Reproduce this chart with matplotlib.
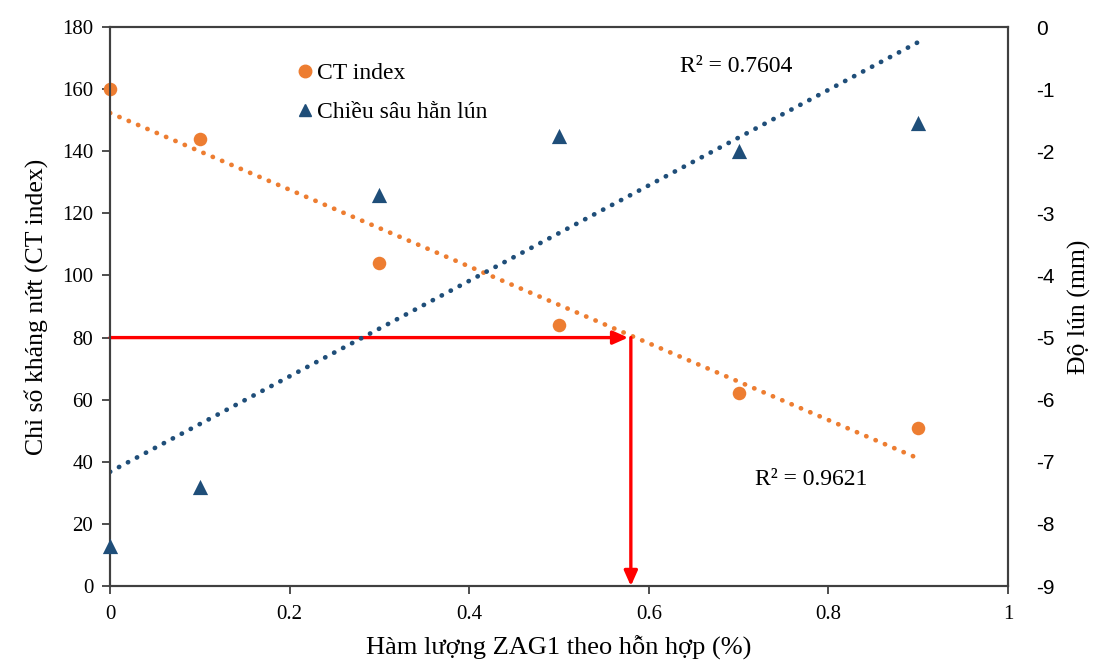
import numpy as np
import matplotlib
matplotlib.use("Agg")
import matplotlib.pyplot as plt
from matplotlib.lines import Line2D

x_vals = [0, 0.1, 0.3, 0.5, 0.7, 0.9]
ct_index = [160, 144, 104, 84, 62, 51]
rut_depth = [-8.35, -7.4, -2.7, -1.75, -2.0, -1.55]
r2_ct = "R² = 0.9621"
r2_rut = "R² = 0.7604"
target_ct = 80
target_x = 0.58
right_ticks = [-9, -8, -7, -6, -5, -4, -3, -2, -1, 0]

orange = "#ED7D31"
blue = "#1F4E79"
serif = "Liberation Serif"

plt.rcParams['font.family'] = [serif, 'DejaVu Serif']

fig = plt.figure(figsize=(10.99, 6.69), dpi=100)
ax = fig.add_axes([0.1001, 0.124, 0.8171, 0.8356])
ax2 = ax.twinx()

# trendlines
xs = np.array(x_vals)
p1 = np.polyfit(xs, ct_index, 1)
p2 = np.polyfit(xs, rut_depth, 1)
xl = np.array([0, 0.9])
ax.plot(xl, np.polyval(p1, xl), linestyle=(0, (0.05, 2.1)), color=orange, lw=3.4,
        dash_capstyle='round', zorder=2)
ax2.plot(xl, np.polyval(p2, xl), linestyle=(0, (0.05, 2.1)), color=blue, lw=3.4,
         dash_capstyle='round', zorder=2)

ax.scatter(x_vals, ct_index, s=95, color=orange, zorder=4, clip_on=False, linewidths=0)
ax2.scatter(x_vals, rut_depth, s=120, marker='^', color=blue, zorder=4, clip_on=False, linewidths=0)

# red arrows
ax.annotate("", xy=(target_x - 0.003, target_ct), xytext=(0, target_ct),
            arrowprops=dict(arrowstyle="-|>,head_length=0.9,head_width=0.4", color="red", lw=2.4,
                            shrinkA=0, shrinkB=0), zorder=5)
ax.annotate("", xy=(target_x, 0), xytext=(target_x, target_ct),
            arrowprops=dict(arrowstyle="-|>,head_length=0.9,head_width=0.4", color="red", lw=2.4,
                            shrinkA=0, shrinkB=0), zorder=5)

ax.set_xlim(0, 1)
ax.set_ylim(0, 180)
ax2.set_ylim(-9, 0)
ax.set_xticks(np.arange(0, 1.01, 0.2))
ax.set_xticklabels(["0", "0.2", "0.4", "0.6", "0.8", "1"])
ax.set_yticks(np.arange(0, 181, 20))
ax2.set_yticks(right_ticks)
ax2.set_yticklabels([str(v) for v in right_ticks])

for a in (ax, ax2):
    for s in a.spines.values():
        s.set_color("#404040")
        s.set_linewidth(1.5)
ax.tick_params(axis='both', direction='out', length=6, width=1.3, color="#404040", labelsize=15, pad=6)
ax.tick_params(axis='x', pad=8)
ax2.tick_params(axis='y', length=0, labelsize=15, pad=20)
for lab in ax2.get_yticklabels():
    lab.set_fontfamily("Liberation Sans")

ax.set_xlabel("Hàm lượng ZAG1 theo hỗn hợp (%)", fontsize=19, labelpad=8)
ax.set_ylabel("Chỉ số kháng nứt (CT index)", fontsize=18.5, labelpad=10)
ax2.set_ylabel("Độ lún (mm)", fontsize=18.5, labelpad=10)

ax.text(0.635, 0.93, r2_rut, transform=ax.transAxes, fontsize=17, va='center')
ax.text(0.718, 0.19, r2_ct, transform=ax.transAxes, fontsize=17, va='center')

handles = [Line2D([], [], linestyle='none', marker='o', color=orange, markersize=9),
           Line2D([], [], linestyle='none', marker='^', color=blue, markersize=9)]
leg = ax2.legend(handles, ["CT index", "Chiều sâu hằn lún"], loc='upper left',
                 bbox_to_anchor=(0.18, 0.975), frameon=False, fontsize=17,
                 handletextpad=0.0, handlelength=1.0, labelspacing=0.75)

fig.savefig("out.png", dpi=100)
